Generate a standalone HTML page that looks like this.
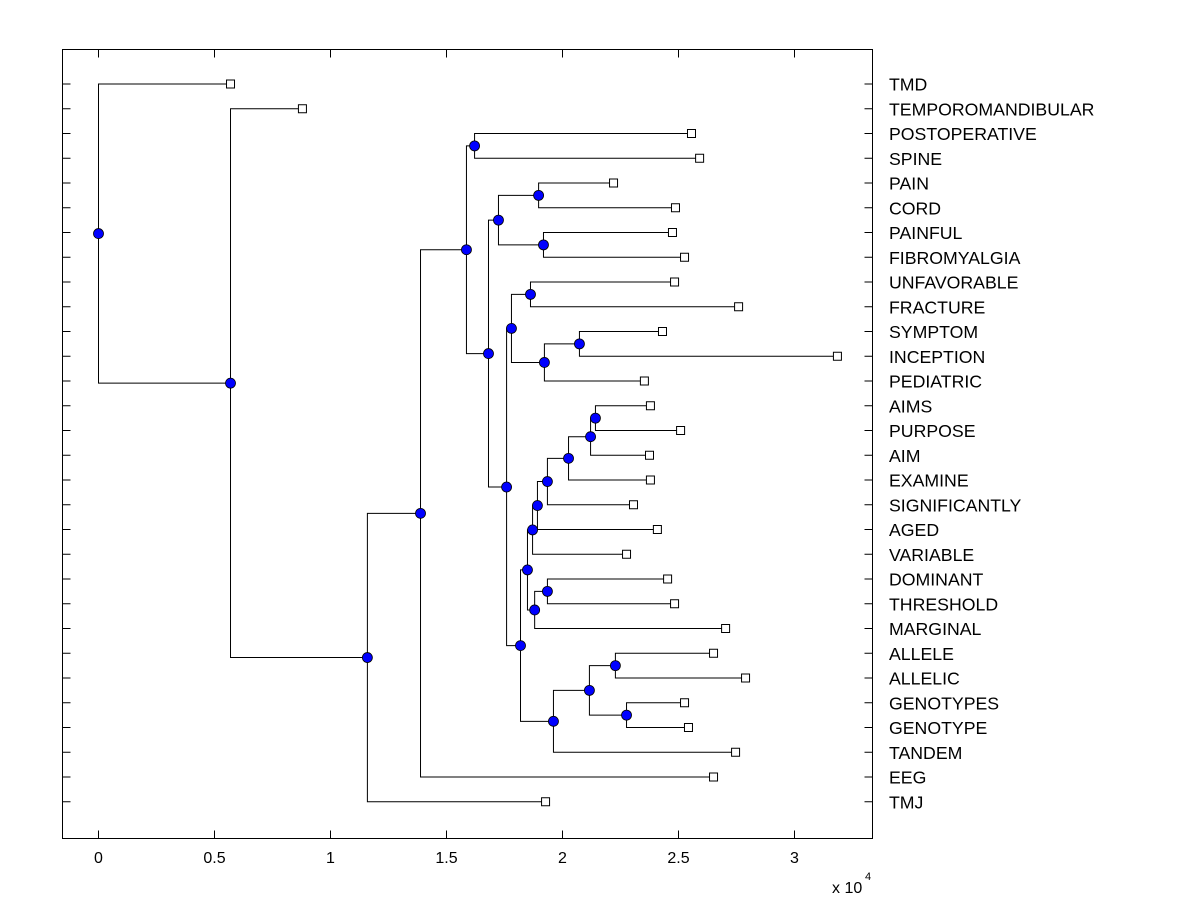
<!DOCTYPE html>
<html><head><meta charset="utf-8"><style>
html,body{margin:0;padding:0;background:#fff;}
svg{display:block;font-family:"Liberation Sans",Arial,sans-serif;}
</style></head><body>
<svg id="chart" width="1200" height="900">
<rect x="0" y="0" width="1200" height="900" fill="#fff"/>
<g id="marks"></g>
<g id="axes"></g>
</svg>
<script>
const leafLabels = ["TMD","TEMPOROMANDIBULAR","POSTOPERATIVE","SPINE","PAIN","CORD","PAINFUL","FIBROMYALGIA","UNFAVORABLE","FRACTURE","SYMPTOM","INCEPTION","PEDIATRIC","AIMS","PURPOSE","AIM","EXAMINE","SIGNIFICANTLY","AGED","VARIABLE","DOMINANT","THRESHOLD","MARGINAL","ALLELE","ALLELIC","GENOTYPES","GENOTYPE","TANDEM","EEG","TMJ"];
const leafValues = [0.569,0.879,2.556,2.591,2.220,2.487,2.474,2.526,2.483,2.759,2.431,3.185,2.353,2.379,2.509,2.375,2.379,2.306,2.409,2.276,2.453,2.483,2.703,2.651,2.789,2.526,2.543,2.746,2.651,1.927];
const mergeLeft  = [2,4,6,31,8,10,35,34,13,38,39,40,41,42,20,44,43,23,25,47,49,46,37,33,30,54,55,1,0];
const mergeRight = [3,5,7,32,9,11,12,36,14,15,16,17,18,19,21,22,45,24,26,48,27,50,51,52,53,28,29,56,57];
const mergeValues = [1.621,1.897,1.918,1.724,1.862,2.073,1.922,1.780,2.142,2.121,2.026,1.935,1.892,1.871,1.935,1.880,1.849,2.228,2.276,2.116,1.961,1.819,1.759,1.681,1.586,1.388,1.159,0.569,0];
const xTicks = [0,0.5,1,1.5,2,2.5,3];
const xTickLabels = ["0","0.5","1","1.5","2","2.5","3"];

const L=62.5,R=872.5,T=49.5,B=838.5;
const xs = v => 98.5 + v*232;
const ys = i => 84 + i*24.75;
const NS="http://www.w3.org/2000/svg";
const marks=document.getElementById('marks'), axes=document.getElementById('axes');
function mk(tag,attrs,parent){const e=document.createElementNS(NS,tag);for(const k in attrs)e.setAttribute(k,attrs[k]);parent.appendChild(e);return e;}

const nLeaf=leafLabels.length;
const nodeX=[], nodeY=[];
for(let i=0;i<nLeaf;i++){nodeX.push(xs(leafValues[i]));nodeY.push(ys(i));}
for(let j=0;j<mergeLeft.length;j++){
  const a=mergeLeft[j], b=mergeRight[j];
  nodeX.push(xs(mergeValues[j])); nodeY.push((nodeY[a]+nodeY[b])/2);
}
for(let j=0;j<mergeLeft.length;j++){
  const id=nLeaf+j, px=nodeX[id];
  const a=mergeLeft[j], b=mergeRight[j];
  const p=mk('path',{d:`M${nodeX[a]},${nodeY[a]}H${px}V${nodeY[b]}H${nodeX[b]}`,fill:'none',stroke:'#000','stroke-width':1},marks);
  
  
}
for(let i=0;i<nLeaf;i++){
  const r=mk('rect',{x:nodeX[i]-4,y:nodeY[i]-4,width:8,height:8,fill:'#fff',stroke:'#000','stroke-width':1},marks);
  
  
}
for(let j=0;j<mergeLeft.length;j++){
  const id=nLeaf+j;
  const c=mk('circle',{cx:nodeX[id],cy:nodeY[id],r:5,fill:'#0000ff',stroke:'#000','stroke-width':0.8},marks);
  
  
}
const box=mk('rect',{x:L,y:T,width:R-L,height:B-T,fill:'none',stroke:'#000','stroke-width':1},axes);


xTicks.forEach((t,k)=>{
  const x=xs(t);
  const tk=mk('path',{d:`M${x},${B}V${B-8}M${x},${T}V${T+8}`,stroke:'#000','stroke-width':1},axes);
  
  
  const tl=mk('text',{x:x,y:863,'text-anchor':'middle','font-size':16,fill:'#000'},axes);
  tl.textContent=xTickLabels[k];
  
  
});
for(let i=0;i<nLeaf;i++){
  const y=ys(i);
  const tk=mk('path',{d:`M${L},${y}H${L+8}M${R},${y}H${R-8}`,stroke:'#000','stroke-width':1},axes);
  
  
  const tl=mk('text',{x:889,y:y+6.5,'font-size':17.7,fill:'#000'},axes);
  tl.textContent=leafLabels[i];
  
  
}
const ex=mk('text',{x:832,y:893,'font-size':16,fill:'#000'},axes);
ex.textContent='x 10';


const ex2=mk('text',{x:865,y:880,'font-size':11,fill:'#000'},axes);
ex2.textContent='4';


</script>
</body></html>
